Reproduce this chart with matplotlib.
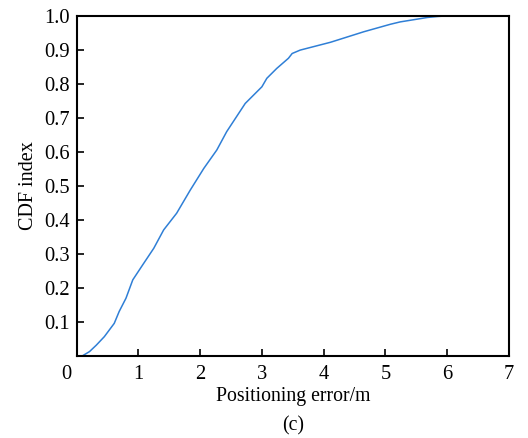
import matplotlib
matplotlib.use("Agg")
import matplotlib.pyplot as plt
import matplotlib.transforms as mtransforms

# CDF curve
err_m = [0.10, 0.21, 0.32, 0.45, 0.61, 0.69, 0.80, 0.91, 1.07, 1.25, 1.41, 1.62,
         1.84, 2.06, 2.27, 2.43, 2.73, 3.00, 3.08, 3.24, 3.43, 3.49, 3.62, 4.11,
         4.65, 5.08, 5.24, 5.41, 5.68, 5.85, 6.03]
cdf = [0.0, 0.012, 0.031, 0.056, 0.095, 0.13, 0.169, 0.223, 0.267, 0.316, 0.37, 0.419,
       0.487, 0.551, 0.605, 0.659, 0.742, 0.791, 0.816, 0.845, 0.875, 0.889, 0.899, 0.922,
       0.953, 0.975, 0.982, 0.987, 0.995, 0.998, 1.0]

x_ticks = [0, 1, 2, 3, 4, 5, 6, 7]
y_ticks = [0.1, 0.2, 0.3, 0.4, 0.5, 0.6, 0.7, 0.8, 0.9, 1.0]

plt.rcParams["font.family"] = ["Liberation Serif", "DejaVu Serif"]

fig = plt.figure(figsize=(5.28, 4.38), dpi=100)
ax = fig.add_axes([0.145, 0.188, 0.819, 0.776])

ax.plot(err_m, cdf, color="#2f7fd6", linewidth=1.1)

ax.set_xlim(0, 7)
ax.set_ylim(0, 1.0)
ax.set_xticks(x_ticks)
ax.set_yticks(y_ticks)
ax.set_yticklabels(["%.1f" % v for v in y_ticks])
ax.tick_params(axis="both", direction="in", length=5, width=1.2, labelsize=14.8)
ax.tick_params(axis="x", pad=7)
ax.tick_params(axis="y", pad=5)
for s in ax.spines.values():
    s.set_linewidth(1.5)

# origin "0" sits a bit left of the corner
lab0 = ax.get_xticklabels()[0]
lab0.set_transform(lab0.get_transform() + mtransforms.ScaledTranslation(-10 / 100, 0, fig.dpi_scale_trans))

ax.set_xlabel("Positioning error/m", fontsize=14.2, labelpad=2)
ax.set_ylabel("CDF index", fontsize=14.5, labelpad=4)
fig.text(0.555, 0.028, "(c)", ha="center", va="center", fontsize=14.2)

fig.savefig("out.png", dpi=100)
